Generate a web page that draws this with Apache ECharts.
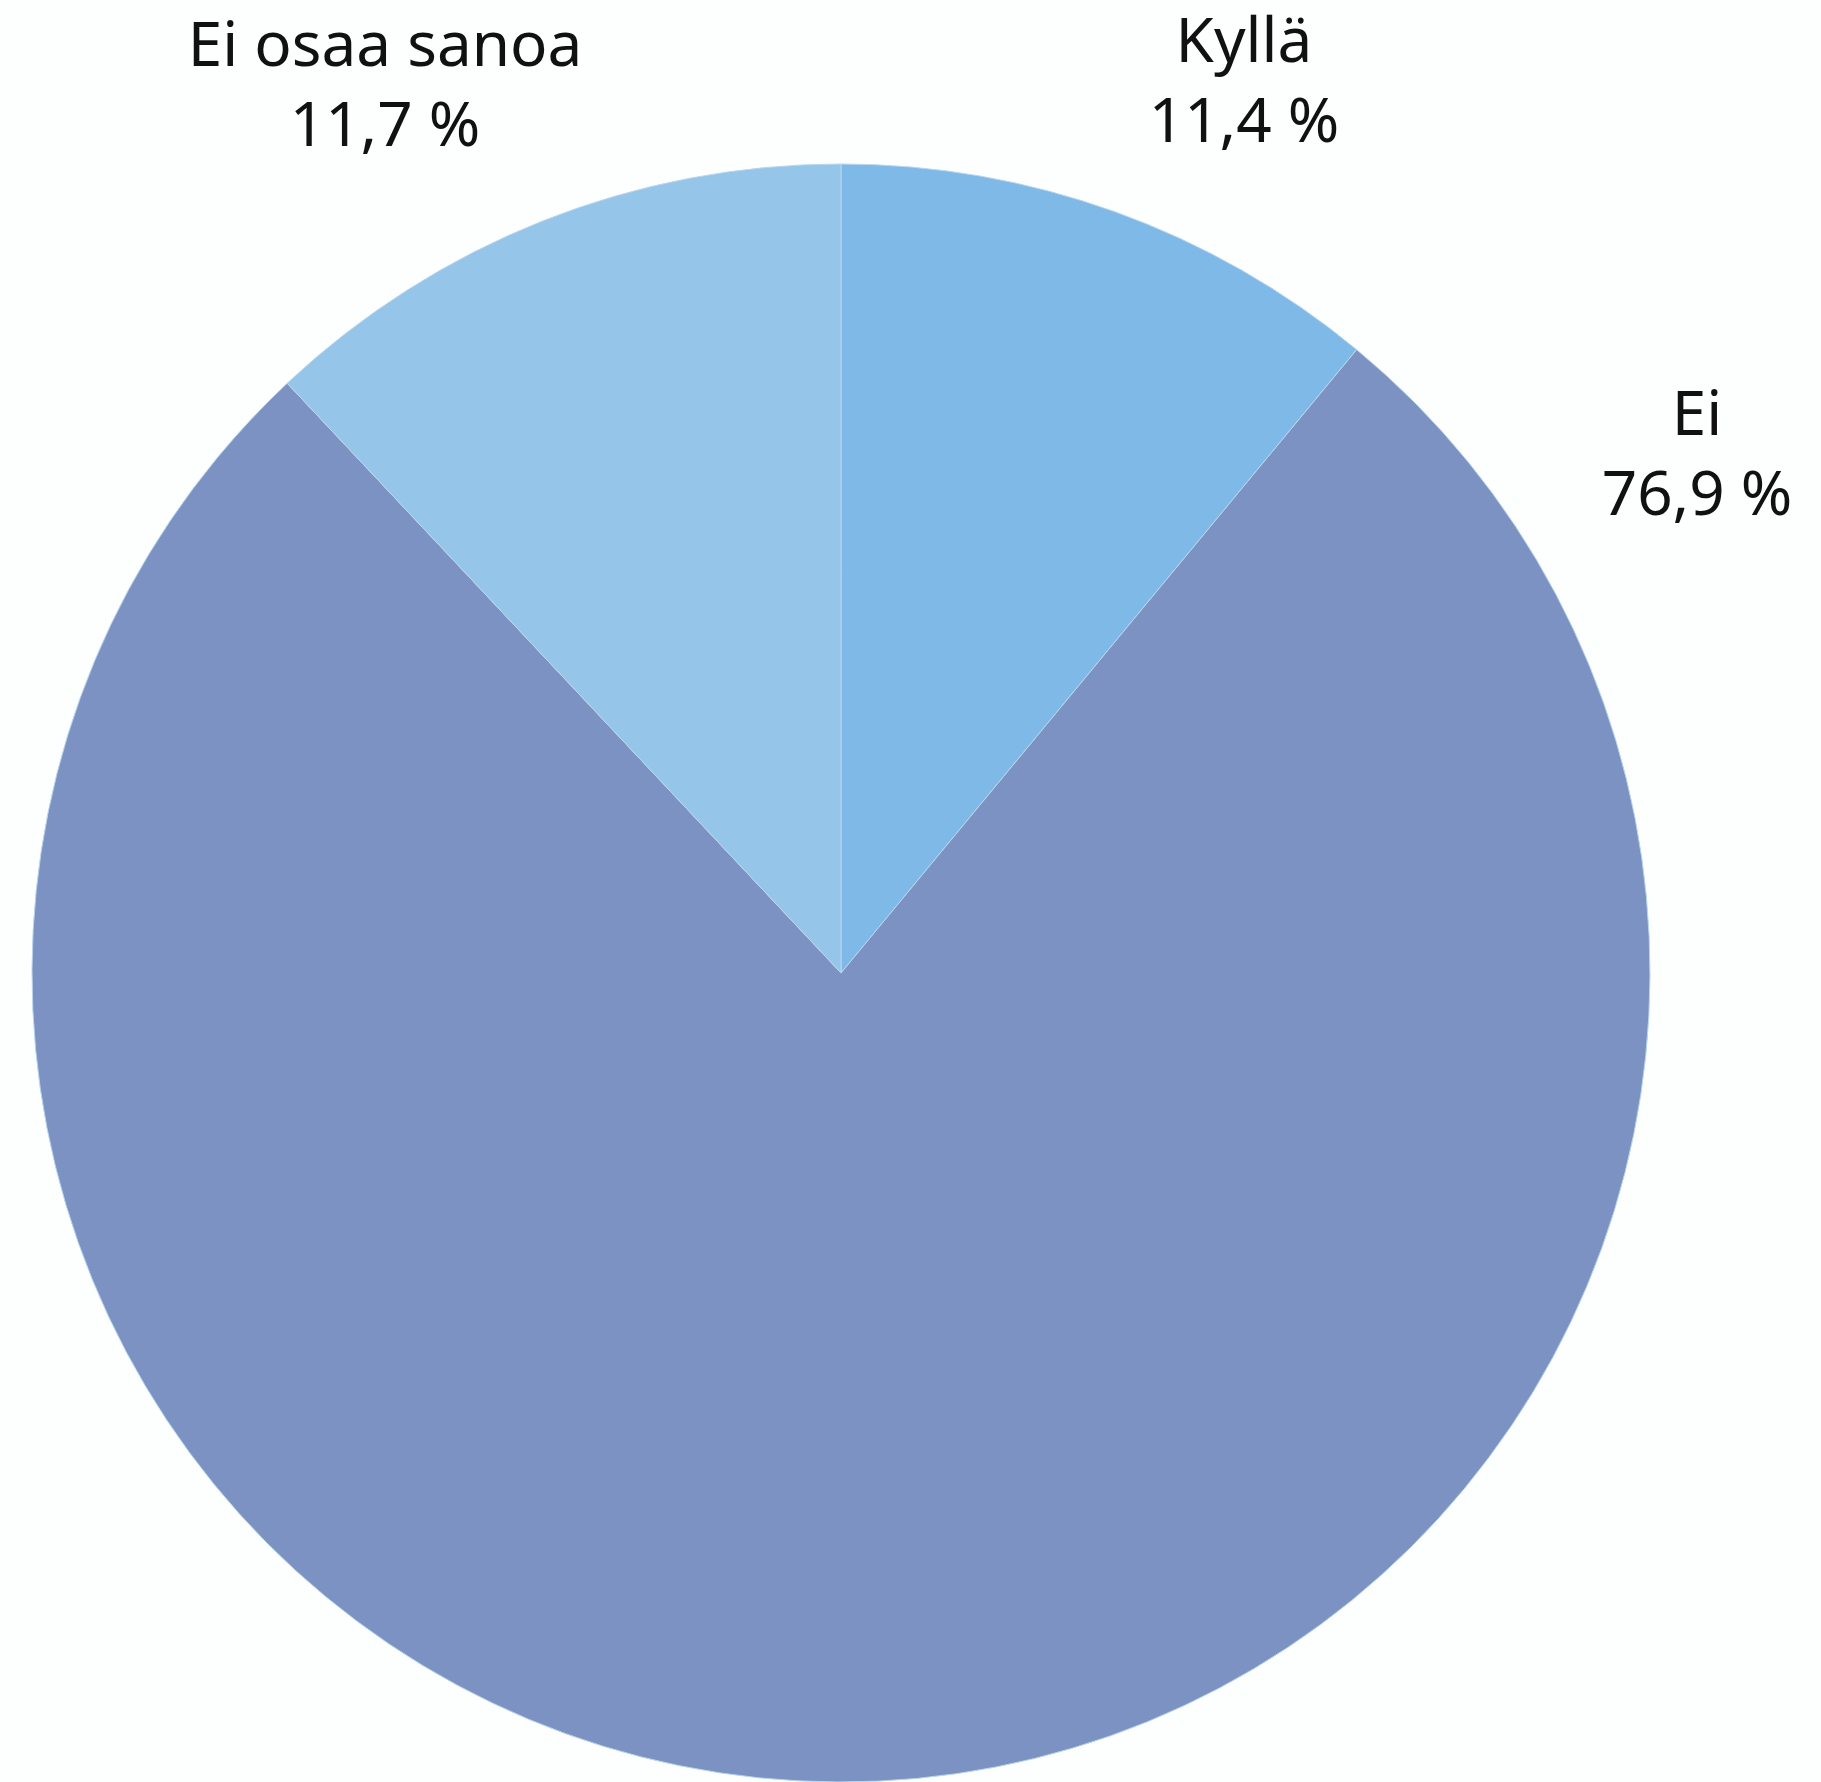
<!DOCTYPE html>
<html>
<head>
<meta charset="utf-8">
<script src="https://cdn.jsdelivr.net/npm/echarts@6/dist/echarts.min.js"></script>
<style>
  html, body { margin: 0; padding: 0; background: #fcfffe; }
  #chart { width: 1821px; height: 1782px; }
</style>
</head>
<body>
<div id="chart"></div>
<script>
// vastaukset
var categories = ['Kyllä', 'Ei', 'Ei osaa sanoa'];
// slice shares as drawn in the picture (angles), percent
var values = [11.0, 77.0, 12.0];
// printed percentages
var percentLabels = ['11,4 %', '76,9 %', '11,7 %'];
var colors = ['#7fb9e7', '#7c92c2', '#96c5ea'];
// label anchor points (px)
var labelPos = [[1244, 84], [1697, 457], [385, 88]];

var myChart = echarts.init(document.getElementById('chart'));
myChart.setOption({
    backgroundColor: '#fcfffe',
    series: [
        {
            name: 'vastaukset',
            type: 'pie',
            radius: 809,
            center: [841, 973],
            startAngle: 90,
            clockwise: true,
            silent: true,
            itemStyle: {
                borderColor: '#b9d6ee',
                borderWidth: 1
            },
            label: {
                show: true,
                position: 'outside',
                fontFamily: 'Noto Sans',
                fontSize: 62,
                lineHeight: 80,
                color: '#111111',
                align: 'center',
                formatter: function (p) {
                    return p.name + '\n' + percentLabels[p.dataIndex];
                }
            },
            labelLine: { show: false },
            labelLayout: function (params) {
                var pos = labelPos[params.dataIndex];
                return { x: pos[0], y: pos[1], align: 'center', verticalAlign: 'middle' };
            },
            data: categories.map(function (c, i) {
                return { name: c, value: values[i], itemStyle: { color: colors[i] } };
            })
        }
    ]
});
</script>
</body>
</html>
